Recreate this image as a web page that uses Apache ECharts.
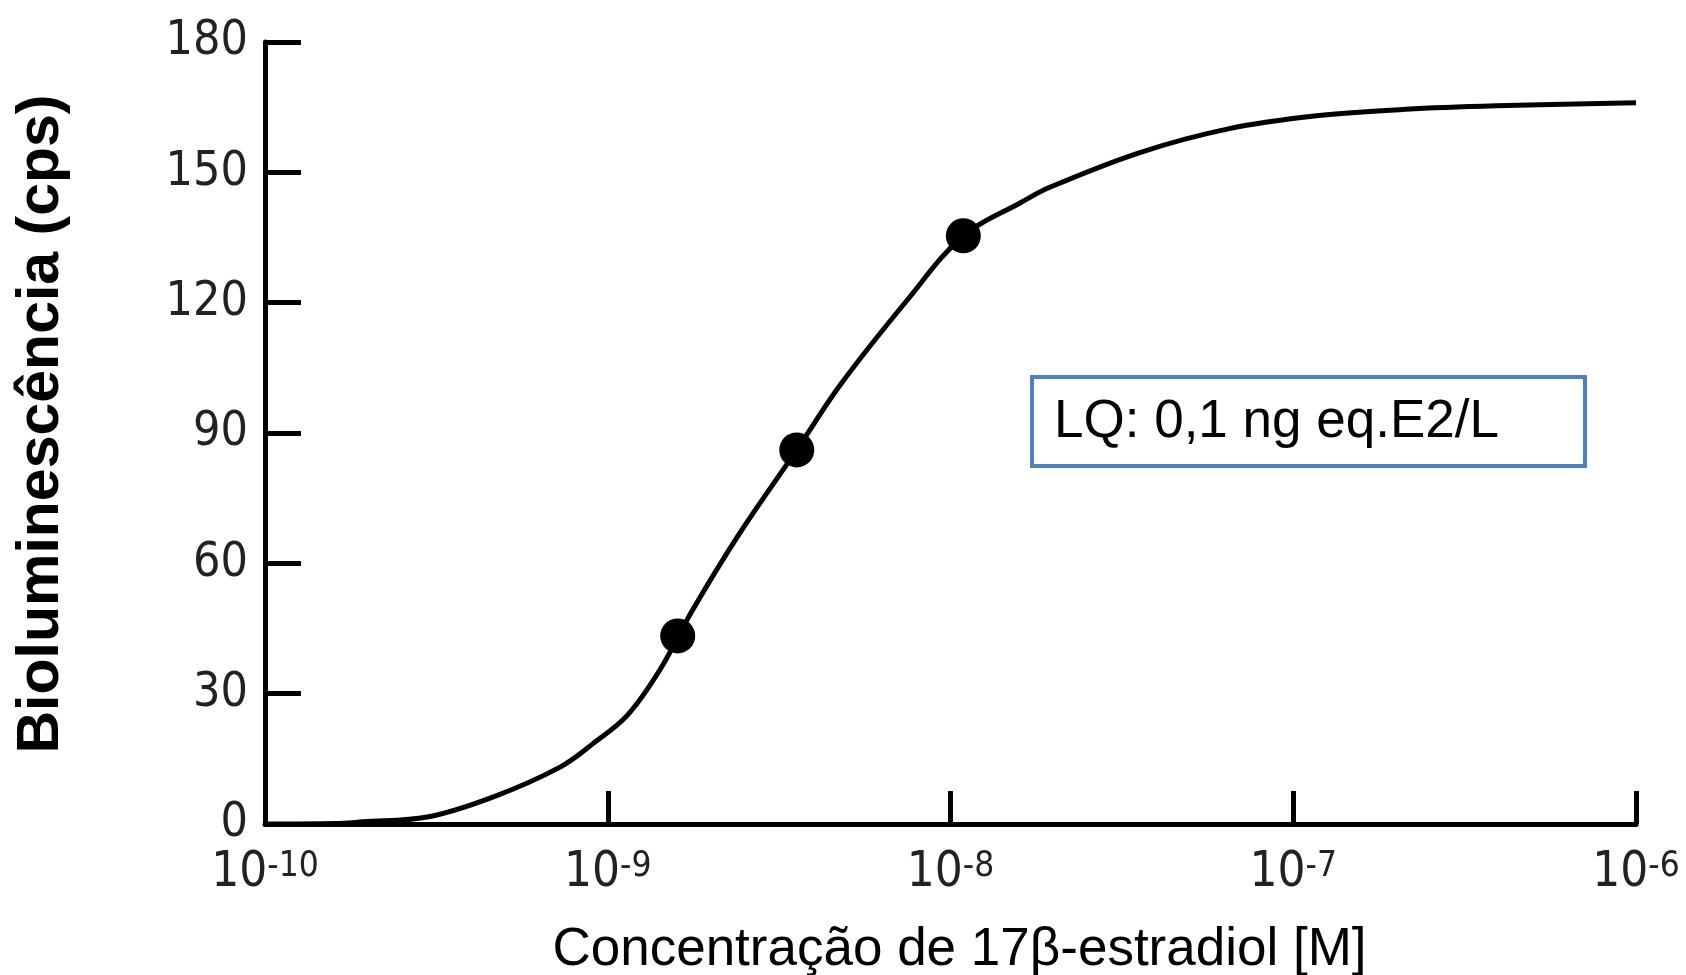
<!DOCTYPE html>
<html>
<head>
<meta charset="utf-8">
<script src="https://cdn.jsdelivr.net/npm/echarts@6.0.0/dist/echarts.min.js"></script>
<style>
  html, body { margin: 0; padding: 0; background: #ffffff; }
  #chart { width: 1686px; height: 975px; }
</style>
</head>
<body>
<div id="chart"></div>
<script>
// ---- data ----
const curveX = [1e-10, 1.6e-10, 1.93e-10, 2.97e-10, 4.62e-10, 7.26e-10, 9.06e-10, 1.14e-9, 1.42e-9, 1.77e-9, 2.43e-9, 3.56e-9, 4.76e-9, 7.46e-9, 1.09e-8, 1.60e-8, 1.94e-8, 3.55e-8, 6.46e-8, 1.17e-7, 2.13e-7, 3.91e-7, 1e-6];
const curveY = [0, 0.1, 0.5, 1.6, 6.2, 13.1, 18.5, 25, 35.5, 49.3, 67, 86.1, 101, 120.5, 135.4, 143, 146.5, 154.5, 160, 163, 164.5, 165.3, 166];
const pointX = [1.60e-9, 3.56e-9, 1.09e-8];
const pointY = [43.3, 86.1, 135.4];
const xTickExponents = [-10, -9, -8, -7, -6];
const yTicks = [0, 30, 60, 90, 120, 150, 180];
const xAxisName = 'Concentração de 17β-estradiol [M]';
const yAxisName = 'Bioluminescência (cps)';
const annotationText = 'LQ: 0,1 ng eq.E2/L';

const narrow = "'Liberation Sans Narrow', 'DejaVu Sans Condensed', 'Liberation Sans', sans-serif";
const sans = "'Liberation Sans', Arial, sans-serif";

const chart = echarts.init(document.getElementById('chart'), null, { renderer: 'canvas' });

const option = {
  backgroundColor: '#ffffff',
  animation: false,
  grid: { left: 265, right: 50, top: 42, bottom: 151, containLabel: false, outerBoundsMode: 'none' },
  xAxis: {
    type: 'log',
    logBase: 10,
    min: Math.pow(10, xTickExponents[0]),
    max: Math.pow(10, xTickExponents[xTickExponents.length - 1]),
    name: xAxisName,
    nameLocation: 'middle',
    nameGap: 100,
    nameTextStyle: { fontFamily: sans, fontSize: 53, lineHeight: 53, color: '#000', padding: [0, 0, 0, 18] },
    axisLine: { onZero: false, lineStyle: { color: '#000', width: 5 } },
    axisTick: { inside: true, length: 33, lineStyle: { color: '#000', width: 5 } },
    minorTick: { show: false },
    splitLine: { show: false },
    axisLabel: {
      margin: 25,
      showMinLabel: true,
      showMaxLabel: true,
      formatter: function (v) {
        const e = Math.round(Math.log10(v));
        if (xTickExponents.indexOf(e) < 0) return '';
        return '{b|10}{s|' + e + '}';
      },
      rich: {
        b: { fontFamily: narrow, fontSize: 49, lineHeight: 49, color: '#222' },
        s: { fontFamily: narrow, fontSize: 35, lineHeight: 18, color: '#222', verticalAlign: 'top' }
      }
    }
  },
  yAxis: {
    type: 'value',
    min: yTicks[0],
    max: yTicks[yTicks.length - 1],
    interval: yTicks[1] - yTicks[0],
    name: yAxisName,
    nameLocation: 'middle',
    nameGap: 194,
    nameTextStyle: { fontFamily: sans, fontSize: 59, lineHeight: 59, fontWeight: 'bold', color: '#000', padding: [0, 0, 0, 18] },
    axisLine: { show: true, lineStyle: { color: '#000', width: 5 } },
    axisTick: { show: true, inside: true, length: 36, lineStyle: { color: '#000', width: 5 } },
    splitLine: { show: false },
    axisLabel: { margin: 17, fontFamily: narrow, fontSize: 48, color: '#222' }
  },
  graphic: [
    {
      type: 'rect',
      shape: { x: 1032, y: 377, width: 553, height: 89 },
      style: { fill: '#ffffff', stroke: '#4f81bd', lineWidth: 4 },
      z: 10
    },
    {
      type: 'text',
      x: 1054,
      y: 422,
      style: { text: annotationText, fontFamily: sans, fontSize: 53, fill: '#000', align: 'left', verticalAlign: 'middle' },
      z: 11
    }
  ],
  series: [
    {
      type: 'line',
      data: curveX.map((x, i) => [x, curveY[i]]),
      smooth: 0.35,
      showSymbol: false,
      lineStyle: { color: '#000', width: 5 },
      z: 2
    },
    {
      type: 'scatter',
      data: pointX.map((x, i) => [x, pointY[i]]),
      symbol: 'circle',
      symbolSize: 35,
      itemStyle: { color: '#000', opacity: 1 },
      z: 3
    }
  ]
};

chart.setOption(option);
</script>
</body>
</html>
